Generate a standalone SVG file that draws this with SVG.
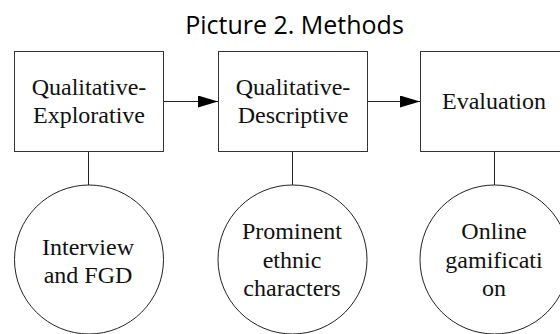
<svg xmlns="http://www.w3.org/2000/svg" width="560" height="334" viewBox="0 0 560 334">
<style>
.box{fill:#fff;stroke:#333;stroke-width:1}
.circ{fill:#fff;stroke:#222;stroke-width:1}
.lbl{font-family:'Liberation Serif','Times New Roman',serif;font-size:24px;fill:#111;text-anchor:middle}
.title{font-family:'Open Sans','Noto Sans',sans-serif;font-size:25px;fill:#000;text-anchor:middle}
.conn{stroke:#222;stroke-width:1;fill:none}
</style>
<defs>
<marker id="arrow" markerWidth="20" markerHeight="12" refX="20" refY="6" orient="auto" markerUnits="userSpaceOnUse">
<path d="M0,0 L20,6 L0,12 Z" fill="#000"/>
</marker>
</defs>
<rect width="560" height="334" fill="#fff"/>
<text class="title" x="294.5" y="34">Picture 2. Methods</text>
<g id="connectors">
<line class="conn" x1="163.5" y1="101.5" x2="218" y2="101.5" marker-end="url(#arrow)"/>
<line class="conn" x1="367.5" y1="101.5" x2="420" y2="101.5" marker-end="url(#arrow)"/>
<line class="conn" x1="88.5" y1="151.5" x2="88.5" y2="185"/>
<line class="conn" x1="292.5" y1="151.5" x2="292.5" y2="185"/>
<line class="conn" x1="494.5" y1="151.5" x2="494.5" y2="185"/>
</g>
<g id="qualitative-explorative">
<rect class="box" x="14.5" y="51.5" width="149" height="100"/>
<text class="lbl" x="89" y="95">Qualitative-</text>
<text class="lbl" x="89" y="123">Explorative</text>
</g>
<g id="qualitative-descriptive">
<rect class="box" x="218.5" y="51.5" width="149" height="100"/>
<text class="lbl" x="293" y="95">Qualitative-</text>
<text class="lbl" x="293" y="123">Descriptive</text>
</g>
<g id="evaluation">
<rect class="box" x="420.5" y="51.5" width="149" height="100"/>
<text class="lbl" x="494" y="109">Evaluation</text>
</g>
<g id="interview-fgd">
<circle class="circ" cx="89" cy="259.5" r="74.5"/>
<text class="lbl" x="88" y="255">Interview</text>
<text class="lbl" x="88" y="283">and FGD</text>
</g>
<g id="prominent-ethnic">
<circle class="circ" cx="292.5" cy="259.5" r="74.5"/>
<text class="lbl" x="292" y="239">Prominent</text>
<text class="lbl" x="292" y="267.5">ethnic</text>
<text class="lbl" x="292" y="296">characters</text>
</g>
<g id="online-gamification">
<circle class="circ" cx="494.5" cy="259.5" r="74.5"/>
<text class="lbl" x="494" y="239">Online</text>
<text class="lbl" x="494" y="267.5">gamificati</text>
<text class="lbl" x="494" y="296">on</text>
</g>
</svg>
